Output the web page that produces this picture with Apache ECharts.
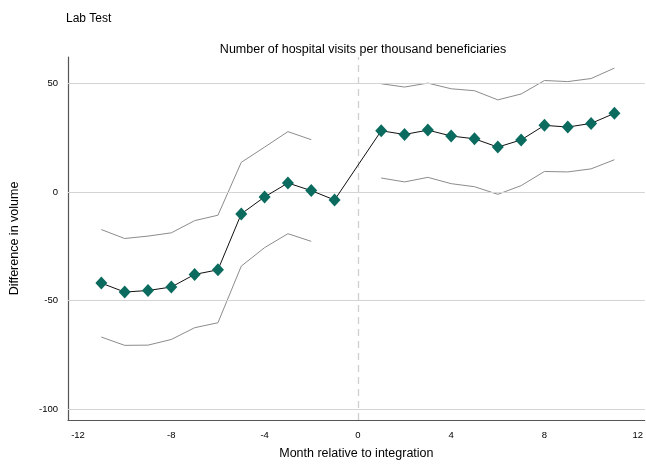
<!DOCTYPE html>
<html><head><meta charset="utf-8">
<script src="https://cdn.jsdelivr.net/npm/echarts@6/dist/echarts.min.js"></script>
<style>html,body{margin:0;padding:0;background:#fff}#c{width:646px;height:465px}</style>
</head><body><div id="c"></div>
<script>
const months = [-11,-10,-9,-8,-7,-6,-5,-4,-3,-2,-1,1,2,3,4,5,6,7,8,9,10,11];
const estimate = [-41.9,-46.0,-45.3,-43.7,-37.9,-35.8,-10.1,-2.3,4.1,0.6,-3.7,28.1,26.4,28.4,25.7,24.4,20.6,23.9,30.6,29.8,31.5,36.1];
const upperCI = [-17.3,-21.4,-20.3,-18.8,-13.2,-10.7,13.6,20.6,27.7,24.0,null,49.7,48.2,50.0,47.4,46.5,42.3,45.0,51.2,50.7,52.1,56.9];
const lowerCI = [-66.7,-70.5,-70.4,-67.8,-62.4,-60.1,-34.1,-25.6,-19.2,-22.7,null,6.4,4.6,6.7,3.8,2.4,-1.1,2.9,9.4,9.2,10.6,14.8];
const xTicks = [-12,-8,-4,0,4,8,12];
const yTicks = [-100,-50,0,50];

const pair = arr => months.map((m,i)=>[m, arr[i]===null ? '-' : arr[i]]);
const font = 'Liberation Sans, Arial, sans-serif';

const chart = echarts.init(document.getElementById('c'), null, {renderer:'canvas'});
chart.setOption({
  animation:false,
  backgroundColor:'#fff',
  title:[
    {text:'Lab Test', left:61, top:8, textStyle:{fontFamily:font, fontSize:12, fontWeight:'normal', color:'#000'}},
    {text:'Number of hospital visits per thousand beneficiaries', left:358, top:38, textAlign:'center',
     textStyle:{fontFamily:font, fontSize:12.5, fontWeight:'normal', color:'#000'}}
  ],
  grid:{left:66, top:57, right:-2, bottom:44, containLabel:false},
  xAxis:{type:'value', min:-12.43, max:12.3,
    name:'Month relative to integration', nameLocation:'middle', nameGap:27,
    nameTextStyle:{fontFamily:font, fontSize:12.5, color:'#000'},
    axisLine:{show:true, onZero:false, lineStyle:{color:'#555', width:1.2}},
    axisTick:{show:false},
    splitLine:{show:false},
    axisLabel:{customValues:xTicks, fontFamily:font, fontSize:9.5, color:'#000', margin:10}
  },
  yAxis:{type:'value', min:-104.8, max:62,
    name:'Difference in volume', nameLocation:'middle', nameGap:47, nameRotate:90,
    nameTextStyle:{fontFamily:font, fontSize:12.5, color:'#000'},
    axisLine:{show:true, onZero:false, lineStyle:{color:'#555', width:1.2}},
    axisTick:{show:false},
    splitLine:{show:false},
    axisLabel:{customValues:yTicks, fontFamily:font, fontSize:9.5, color:'#000', margin:10}
  },
  series:[
    {type:'line', data:pair(upperCI), showSymbol:false, symbol:'none', connectNulls:false,
     lineStyle:{color:'#8c8c8c', width:1}, z:2,
     markLine:{silent:true, symbol:'none', label:{show:false},
       data:yTicks.map(v=>({yAxis:v})),
       lineStyle:{color:'#d4d4d4', width:1.2, type:'solid'}}},
    {type:'line', data:pair(lowerCI), showSymbol:false, symbol:'none', connectNulls:false,
     lineStyle:{color:'#8c8c8c', width:1}, z:2,
     markLine:{silent:true, symbol:'none', label:{show:false},
       data:[{xAxis:0}],
       lineStyle:{color:'#cfcfcf', width:1.3, type:[7,5]}}},
    {type:'line', data:pair(estimate), symbol:'diamond', symbolSize:[12,13],
     itemStyle:{color:'#0a6b5e'}, lineStyle:{color:'#111', width:1}, z:5}
  ]
});
</script></body></html>
